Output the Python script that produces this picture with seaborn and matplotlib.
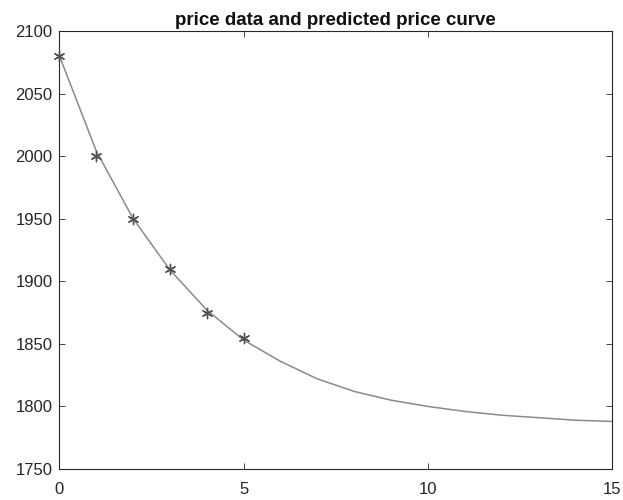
import matplotlib
matplotlib.use("Agg")
import matplotlib.pyplot as plt
import seaborn as sns
import pandas as pd

# observed prices
obs_t = [0, 1, 2, 3, 4, 5]
obs_price = [2080, 2000, 1950, 1910, 1875, 1855]

# predicted price curve
pred_t = [0, 1, 2, 3, 4, 5, 6, 7, 8, 9, 10, 11, 12, 13, 14, 15]
pred_price = [2080, 2004, 1950, 1909, 1877, 1853, 1836, 1822, 1812, 1805,
              1800, 1796, 1793, 1791, 1789, 1788]

x_ticks = [0, 5, 10, 15]
y_ticks = [1750, 1800, 1850, 1900, 1950, 2000, 2050, 2100]

sns.set_theme(style="white")
plt.rcParams["font.family"] = ["Liberation Sans", "DejaVu Sans"]

obs = pd.DataFrame({"t": obs_t, "price": obs_price})
pred = pd.DataFrame({"t": pred_t, "price": pred_price})

fig = plt.figure(figsize=(6.23, 5.0), dpi=100)
ax = fig.add_axes([0.0955, 0.062, 0.887, 0.876])

sns.lineplot(data=pred, x="t", y="price", ax=ax, color="#8a8a8a",
             linewidth=1.1, zorder=2)
sns.scatterplot(data=obs, x="t", y="price", ax=ax, marker=(6, 2, 0), s=55,
                color="#505050", linewidth=1.0, edgecolor="#505050",
                zorder=3, clip_on=False)

ax.set_xlim(0, 15)
ax.set_ylim(1750, 2100)
ax.set_xticks(x_ticks)
ax.set_yticks(y_ticks)
ax.set_xlabel("")
ax.set_ylabel("")
ax.set_title("price data and predicted price curve", fontsize=13.5,
             fontweight="bold", pad=4, color="#111111")

for s in ax.spines.values():
    s.set_visible(True)
    s.set_color("#262626")
    s.set_linewidth(0.8)
ax.tick_params(direction="in", length=4, width=0.6, colors="#262626",
               labelsize=12, top=True, right=True, bottom=True, left=True,
               labeltop=False, labelright=False)
ax.tick_params(axis="x", pad=9)
ax.tick_params(axis="y", pad=5)

fig.savefig("out.png", dpi=100, facecolor="white")
